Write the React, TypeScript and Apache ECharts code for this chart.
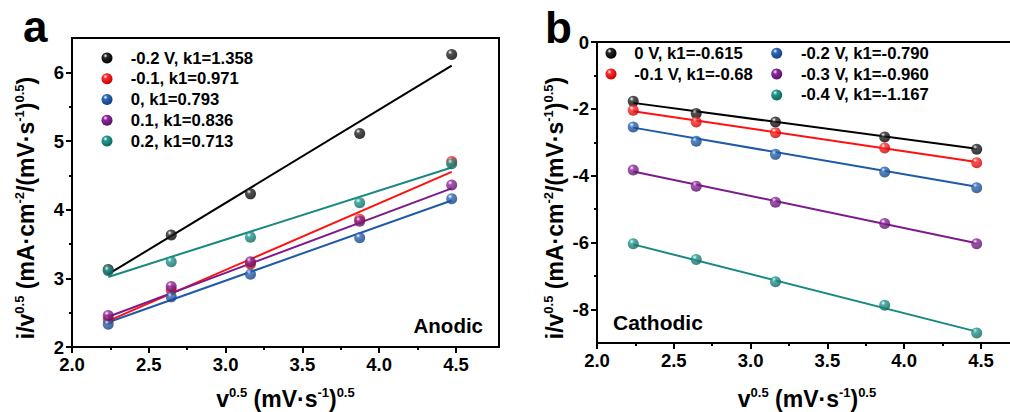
import React, { useEffect, useRef } from "react";
import * as echarts from "echarts";

// Square root of the scan rate, v^0.5, shared by both panels
const sqrtScanRate = [2.236, 2.646, 3.162, 3.873, 4.472];

// Panel a: anodic peaks
const anodicNames = ["-0.2 V, k1=1.358", "-0.1, k1=0.971", "0, k1=0.793", "0.1, k1=0.836", "0.2, k1=0.713"];
const anodicM02 = [3.13, 3.63, 4.23, 5.11, 6.26];
const anodicM01 = [2.4, 2.83, 3.21, 3.86, 4.7];
const anodicZero = [2.33, 2.73, 3.06, 3.59, 4.16];
const anodicP01 = [2.46, 2.88, 3.24, 3.83, 4.36];
const anodicP02 = [3.11, 3.24, 3.6, 4.1, 4.67];
const anodicSlopes = [1.358, 0.971, 0.793, 0.836, 0.713];
const anodicIntercepts = [0.024, 0.209, 0.587, 0.571, 1.426];

// Panel b: cathodic peaks
const cathodicNames = ["0 V, k1=-0.615", "-0.1 V, k1=-0.68", "-0.2 V, k1=-0.790", "-0.3 V, k1=-0.960", "-0.4 V, k1=-1.167"];
const cathodicZero = [-1.77, -2.14, -2.39, -2.84, -3.21];
const cathodicM01 = [-2.04, -2.39, -2.71, -3.17, -3.61];
const cathodicM02 = [-2.54, -2.97, -3.36, -3.89, -4.36];
const cathodicM03 = [-3.83, -4.31, -4.79, -5.43, -6.03];
const cathodicM04 = [-6.03, -6.5, -7.17, -7.87, -8.7];
const cathodicSlopes = [-0.615, -0.68, -0.79, -0.96, -1.167];
const cathodicIntercepts = [-0.445, -0.55, -0.794, -1.723, -3.441];

// Tick positions
const xMajorTicks = [2.0, 2.5, 3.0, 3.5, 4.0, 4.5];
const xMinorTicks = [2.25, 2.75, 3.25, 3.75, 4.25];
const anodicYMajor = [2, 3, 4, 5, 6];
const anodicYMinor = [2.5, 3.5, 4.5, 5.5];
const cathodicYMajor = [0, -2, -4, -6, -8];
const cathodicYMinor = [-1, -3, -5, -7];

const FONT = "'Liberation Sans', Arial, Helvetica, sans-serif";

const palette = [
  { base: "#262626", dark: "#000000", line: "#000000" },
  { base: "#ff2a2a", dark: "#c40000", line: "#ff1010" },
  { base: "#2c68b8", dark: "#123f80", line: "#1f5aa8" },
  { base: "#8c2a9c", dark: "#5a0f66", line: "#7d1a8c" },
  { base: "#229a90", dark: "#0e645c", line: "#17897f" },
];

const sphere = (i: number) => ({
  type: "radial",
  x: 0.36,
  y: 0.3,
  r: 0.72,
  colorStops: [
    { offset: 0, color: "#ffffff" },
    { offset: 0.28, color: palette[i].base },
    { offset: 1, color: palette[i].dark },
  ],
});

function buildSeries(
  names: string[],
  values: number[][],
  slopes: number[],
  intercepts: number[],
  axisIndex: number
) {
  const out: any[] = [];
  const x0 = sqrtScanRate[0];
  const x1 = sqrtScanRate[sqrtScanRate.length - 1];
  names.forEach((name, i) => {
    out.push({
      name: name + " fit",
      type: "line",
      xAxisIndex: axisIndex,
      yAxisIndex: axisIndex,
      data: [
        [x0, intercepts[i] + slopes[i] * x0],
        [x1, intercepts[i] + slopes[i] * x1],
      ],
      symbol: "none",
      lineStyle: { color: palette[i].line, width: 2 },
      z: 2,
      silent: true,
    });
  });
  names.forEach((name, i) => {
    out.push({
      name,
      type: "scatter",
      xAxisIndex: axisIndex,
      yAxisIndex: axisIndex,
      data: values[i].map((y, j) => [sqrtScanRate[j], y]),
      symbol: "circle",
      symbolSize: 11,
      itemStyle: { color: sphere(i) as any },
      z: 3,
    });
  });
  return out;
}

const tickLabel = {
  fontSize: 18.5,
  fontWeight: "bold" as const,
  fontFamily: FONT,
  color: "#000",
};

function majorAxis(gridIndex: number, min: number, max: number, ticks: number[], fmt: (v: number) => string, extra: any = {}) {
  return {
    type: "value",
    gridIndex,
    min,
    max,
    axisLine: { show: true, onZero: false, lineStyle: { color: "#000", width: 2 } },
    axisTick: { show: true, inside: false, length: 6, customValues: ticks, lineStyle: { color: "#000", width: 2 } },
    axisLabel: { show: true, customValues: ticks, formatter: fmt, margin: 8, ...tickLabel },
    splitLine: { show: false },
    ...extra,
  };
}

function minorAxis(gridIndex: number, min: number, max: number, ticks: number[], extra: any = {}) {
  return {
    type: "value",
    gridIndex,
    min,
    max,
    axisLine: { show: false, onZero: false },
    axisTick: { show: true, inside: false, length: 3, customValues: ticks, lineStyle: { color: "#000", width: 2 } },
    axisLabel: { show: false },
    splitLine: { show: false },
    ...extra,
  };
}

const titleRich = {
  m: { fontSize: 23, fontWeight: "bold", fontFamily: FONT, fill: "#000", color: "#000", lineHeight: 26 },
  s: { fontSize: 13, fontWeight: "bold", fontFamily: FONT, fill: "#000", color: "#000", lineHeight: 13, verticalAlign: "top" },
};

const xTitle = "{m|v}{s|0.5}{m| (mV·s}{s|-1}{m|)}{s|0.5}";
const yTitle = "{m|i/v}{s|0.5}{m| (mA·cm}{s|-2}{m|/(mV·s}{s|-1}{m|)}{s|0.5}{m|)}";

function richText(text: string, x: number, y: number, rotation = 0) {
  return {
    type: "text",
    x,
    y,
    rotation,
    style: { text, rich: titleRich, align: "center", verticalAlign: "middle" },
    silent: true,
  };
}

function plainText(text: string, x: number, y: number, size: number, align: string) {
  return {
    type: "text",
    x,
    y,
    style: { text, fontSize: size, fontWeight: "bold", fontFamily: FONT, fill: "#000", align, verticalAlign: "middle" },
    silent: true,
  };
}

// Legend rows: a shaded marker followed by its label
function legendRows(names: string[], colorIdx: number[], markerX: number, textX: number, top: number, step: number) {
  const out: any[] = [];
  names.forEach((name, i) => {
    const y = top + step * i;
    out.push({
      type: "circle",
      shape: { cx: markerX, cy: y, r: 5.5 },
      style: { fill: sphere(colorIdx[i]) as any },
      silent: true,
    });
    out.push(plainText(name, textX, y, 16.7, "left"));
  });
  return out;
}

export default function App() {
  const ref = useRef<HTMLDivElement>(null);

  useEffect(() => {
    if (!ref.current) return;
    const chart = echarts.init(ref.current, undefined, { renderer: "svg" });
    const fmt1 = (v: number) => v.toFixed(1);
    const fmt0 = (v: number) => String(v);

    chart.setOption({
      animation: false,
      backgroundColor: "#ffffff",
      grid: [
        { left: 72, top: 38, width: 427, height: 309, show: true, borderColor: "#000", borderWidth: 2, backgroundColor: "transparent", containLabel: false, outerBoundsMode: "none" },
        { left: 597, top: 42, width: 427, height: 301, show: true, borderColor: "#000", borderWidth: 2, backgroundColor: "transparent", containLabel: false, outerBoundsMode: "none" },
      ],
      xAxis: [
        majorAxis(0, 2, 4.78, xMajorTicks, fmt1, { position: "bottom" }),
        majorAxis(1, 2, 4.78, xMajorTicks, fmt1, { position: "bottom" }),
        minorAxis(0, 2, 4.78, xMinorTicks, { position: "bottom" }),
        minorAxis(1, 2, 4.78, xMinorTicks, { position: "bottom" }),
      ],
      yAxis: [
        majorAxis(0, 2, 6.5, anodicYMajor, fmt0, { position: "left" }),
        majorAxis(1, -9, 0, cathodicYMajor, fmt0, { position: "left" }),
        minorAxis(0, 2, 6.5, anodicYMinor, { position: "left" }),
        minorAxis(1, -9, 0, cathodicYMinor, { position: "left" }),
      ],
      series: [
        ...buildSeries(anodicNames, [anodicM02, anodicM01, anodicZero, anodicP01, anodicP02], anodicSlopes, anodicIntercepts, 0),
        ...buildSeries(cathodicNames, [cathodicZero, cathodicM01, cathodicM02, cathodicM03, cathodicM04], cathodicSlopes, cathodicIntercepts, 1),
      ],
      graphic: [
        plainText("a", 23, 26.8, 44, "left"),
        plainText("b", 545, 27.8, 44, "left"),
        plainText("Anodic", 483, 325, 20.5, "right"),
        plainText("Cathodic", 613, 322.7, 21, "left"),
        richText(xTitle, 285.5, 399),
        richText(xTitle, 807, 399),
        richText(yTitle, 26, 208, Math.PI / 2),
        richText(yTitle, 555, 208, Math.PI / 2),
        ...legendRows(anodicNames, [0, 1, 2, 3, 4], 107, 130.7, 58, 20.75),
        ...legendRows(cathodicNames.slice(0, 2), [0, 1], 611, 634.3, 53.3, 20.8),
        ...legendRows(cathodicNames.slice(2), [2, 3, 4], 776.7, 801, 53.3, 20.8),
      ],
    });

    return () => chart.dispose();
  }, []);

  return (
    <div
      ref={ref}
      style={{ position: "absolute", left: 0, top: 0, width: 1010, height: 412, background: "#fff", overflow: "hidden" }}
    />
  );
}
